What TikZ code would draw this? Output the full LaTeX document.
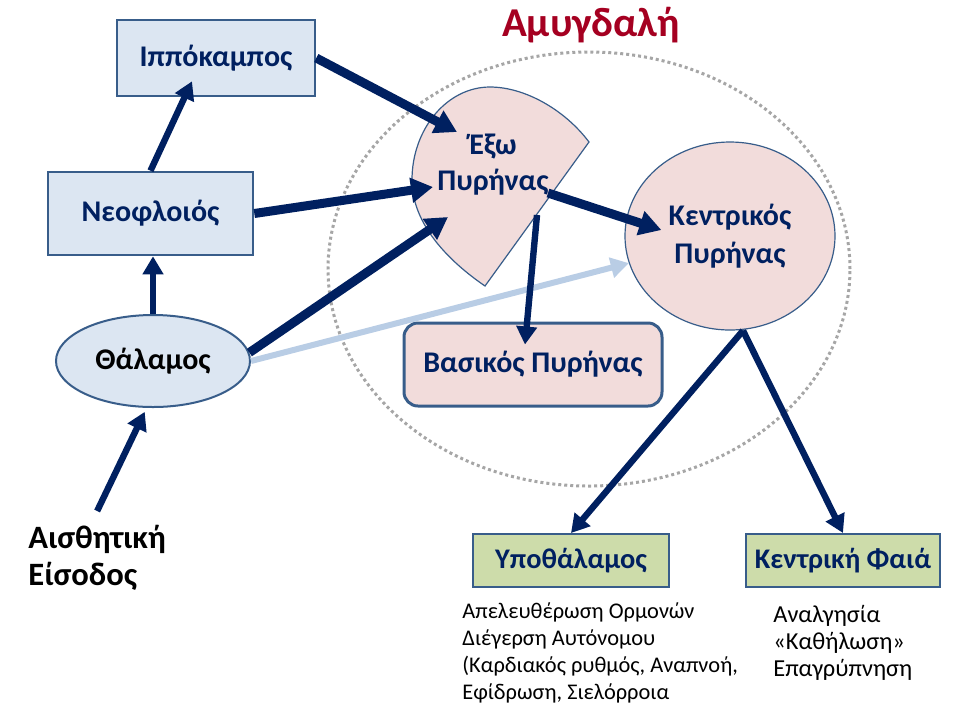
\documentclass[tikz,border=0pt]{standalone}
\usepackage{fontspec}
\setmainfont{Carlito}
\usetikzlibrary{arrows.meta, positioning, shapes.geometric}
\definecolor{navy}{RGB}{0,32,96}
\definecolor{boxblue}{RGB}{220,230,242}
\definecolor{edgeblue}{RGB}{56,93,138}
\definecolor{nucpink}{RGB}{242,220,219}
\definecolor{outgreen}{RGB}{205,220,170}
\definecolor{paleblue}{RGB}{185,205,229}
\definecolor{amyred}{RGB}{165,0,33}
\definecolor{dotgray}{RGB}{166,166,166}

\begin{document}
\begin{tikzpicture}[x=0.5pt, y=-0.5pt,
      box/.style={rectangle, draw=edgeblue, line width=1.3pt, fill=boxblue,
        text=navy, font=\bfseries\fontsize{15}{18}\selectfont,
        minimum width=99pt, minimum height=38pt, inner sep=0pt},
      oval/.style={ellipse, draw=edgeblue, line width=1pt, fill=boxblue,
        font=\bfseries\fontsize{15}{18}\selectfont,
        minimum width=97pt, minimum height=46pt, inner sep=0pt},
      pinkbox/.style={box, rounded corners=7pt, fill=nucpink, line width=1.5pt,
        minimum width=129pt, minimum height=41.5pt},
      nucleus/.style={ellipse, draw=edgeblue, line width=0.6pt, fill=nucpink,
        text=navy, font=\bfseries\fontsize{15}{19}\selectfont, align=center,
        minimum width=105pt, minimum height=94pt, inner sep=0pt},
      greenbox/.style={box, fill=outgreen, line width=1pt,
        font=\bfseries\fontsize{14.2}{17}\selectfont,
        minimum width=98pt, minimum height=26.5pt},
      note/.style={align=left, anchor=north west, inner sep=0pt,
        font=\fontsize{11.2}{13.6}\selectfont},
      arr/.style={-{Triangle[length=9pt,width=10pt]}, navy, line width=3.2pt},
      thickarr/.style={-{Triangle[length=11pt,width=12pt]}, navy, line width=4.5pt},
      lightarr/.style={-{Triangle[length=9pt,width=10pt]}, paleblue, line width=3pt}]
    \useasboundingbox (0,0) rectangle (960,720);
    % amygdala outline
    \draw[dotgray, line width=1.5pt, dash pattern=on 1.5pt off 1.5pt]
      (589,269) ellipse [x radius=130.5pt, y radius=108.5pt];
    \node[text=amyred, font=\bfseries\fontsize{20.5}{24}\selectfont, anchor=base]
      (amy) at (591,36) {Αμυγδαλή};
    % lateral nucleus (cut disc)
    \draw[edgeblue, line width=0.6pt, fill=nucpink] (485,286) -- (589,142)
      .. controls (565,110) and (525,87) .. (490,87)
      .. controls (447,87) and (412,129) .. (412,180)
      .. controls (412,225) and (450,262) .. (485,286) -- cycle;
    \node[text=navy, font=\bfseries\fontsize{15}{18}\selectfont, align=center]
      (exo) at (493,165) {Έξω\\Πυρήνας};
    \coordinate (exoA) at (457,132);
    \coordinate (exoB) at (433,187);
    \coordinate (exoC) at (448,217);
    \coordinate (exoD) at (548,193);
    \coordinate (exoE) at (537,215);
    % boxes
    \node[box] (hippo) at (216,58) {Ιππόκαμπος};
    \node[box, minimum width=102.5pt, minimum height=41.5pt] (neo) at (150.5,213.5) {Νεοφλοιός};
    \node[oval] (thal) at (153,361) {Θάλαμος};
    \node[pinkbox] (bas) at (533,364.5) {Βασικός Πυρήνας};
    \node[nucleus] (cen) at (730,236) {Κεντρικός\\Πυρήνας};
    \node[greenbox] (hypo) at (571,560.5) {Υποθάλαμος};
    \node[greenbox, minimum width=97pt] (grey) at (843,560.5) {Κεντρική Φαιά};
    \node[note, font=\bfseries\fontsize{16.3}{18.5}\selectfont] (sens) at (28,525)
      {Αισθητική\\Είσοδος};
    \node[note] (hyponote) at (462,602)
      {Απελευθέρωση Ορμονών\\Διέγερση Αυτόνομου\\(Καρδιακός ρυθμός, Αναπνοή,\\Εφίδρωση, Σιελόρροια};
    \node[note, font=\fontsize{12.2}{13.4}\selectfont] (greynote) at (773,605)
      {Αναλγησία\\«Καθήλωση»\\Επαγρύπνηση};
    % connections
    \draw[lightarr] (thal.east) -- (cen.195);
    \draw[arr] ([yshift=7pt]sens.north) -- ([yshift=-2pt]thal.260);
    \draw[arr] (thal.north) -- (thal.north |- neo.south);
    \draw[arr] (neo.north) -- ([xshift=-12pt,yshift=8pt]hippo.south);
    \draw[thickarr] (hippo.east) -- (exoA);
    \draw[thickarr] (neo.east) -- (exoB);
    \draw[thickarr] (thal.5) -- (exoC);
    \draw[thickarr] (exoD) -- ([xshift=18.5pt,yshift=3pt]cen.west);
    \draw[arr] (exoE) -- ([xshift=-4pt,yshift=-11.5pt]bas.north);
    \draw[arr] ([xshift=6.5pt]cen.south) -- (hypo.north);
    \draw[arr] ([xshift=6.5pt]cen.south) -- (grey.north);
  \end{tikzpicture}
\end{document}
